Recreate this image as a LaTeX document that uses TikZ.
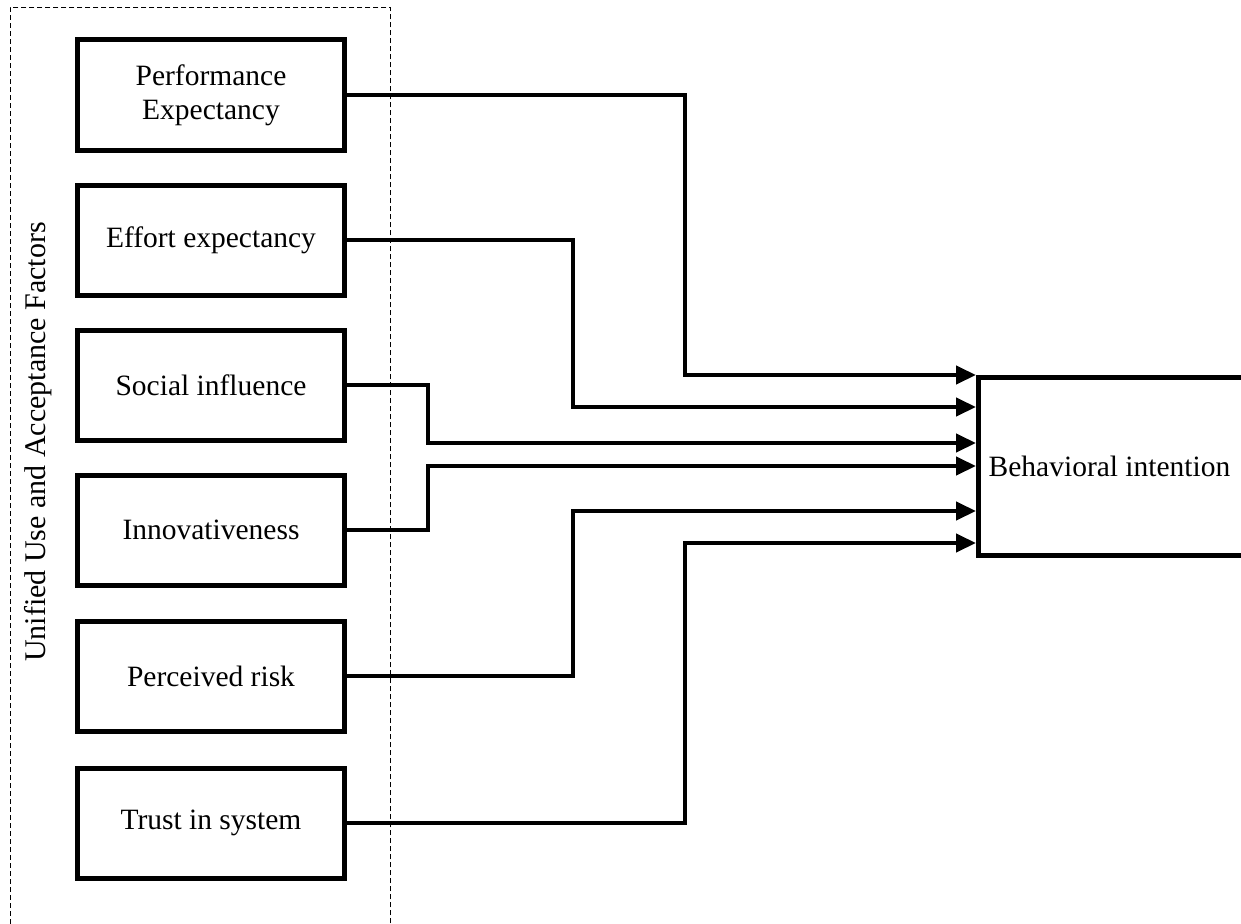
\documentclass[tikz,border=0pt]{standalone}
\usepackage{fontspec}
\setmainfont{Liberation Serif}
\usetikzlibrary{arrows.meta,calc}
\begin{document}
\begin{tikzpicture}[x=1pt,y=-1pt,
  factor/.style={draw,line width=5pt,line join=miter,minimum width=267pt,minimum height=110pt,
     align=center,inner sep=0pt,font=\fontsize{29.5pt}{34pt}\selectfont},
  target/.style={draw,line width=5pt,line join=miter,minimum width=290pt,minimum height=178pt,
     anchor=north west,inner sep=0pt,font=\fontsize{29.5pt}{34pt}\selectfont},
  conn/.style={line width=4.2pt,line join=miter,-{Triangle[length=20pt,width=18pt]}},
  group/.style={draw,line width=0.8pt,dash pattern=on 5pt off 3pt}]
\useasboundingbox (0,0) rectangle (1241,923);
\clip (0,0) rectangle (1241,923);
\node[group,minimum width=380pt,minimum height=960pt,anchor=north west,inner sep=0pt] (grp) at (10,7) {};
\node[rotate=90,font=\fontsize{30pt}{34pt}\selectfont] (glabel) at (38,442) {Unified Use and Acceptance Factors};
\node[factor] (pe) at (211,95) {Performance\\Expectancy};
\node[factor] (ee) at (211,240) {Effort expectancy};
\node[factor] (si) at (211,385) {Social influence};
\node[factor] (in) at (211,530) {Innovativeness};
\node[factor] (pr) at (211,676) {Perceived risk};
\node[factor] (ts) at (211,823) {Trust in system};
\node[target] (bi) at (976,375) {\hspace*{-28pt}Behavioral intention};
\draw[conn] (pe.east) -- ++(338,0) |- ([yshift=0pt]bi.north west);
\draw[conn] (ee.east) -- ++(226,0) |- ([yshift=-32pt]bi.north west);
\draw[conn] (si.east) -- ++(81,0) |- ([yshift=-68pt]bi.north west);
\draw[conn] (in.east) -- ++(81,0) |- ([yshift=-91pt]bi.north west);
\draw[conn] (pr.east) -- ++(226,0) |- ([yshift=-136pt]bi.north west);
\draw[conn] (ts.east) -- ++(338,0) |- ([yshift=-168pt]bi.north west);
\end{tikzpicture}
\end{document}
